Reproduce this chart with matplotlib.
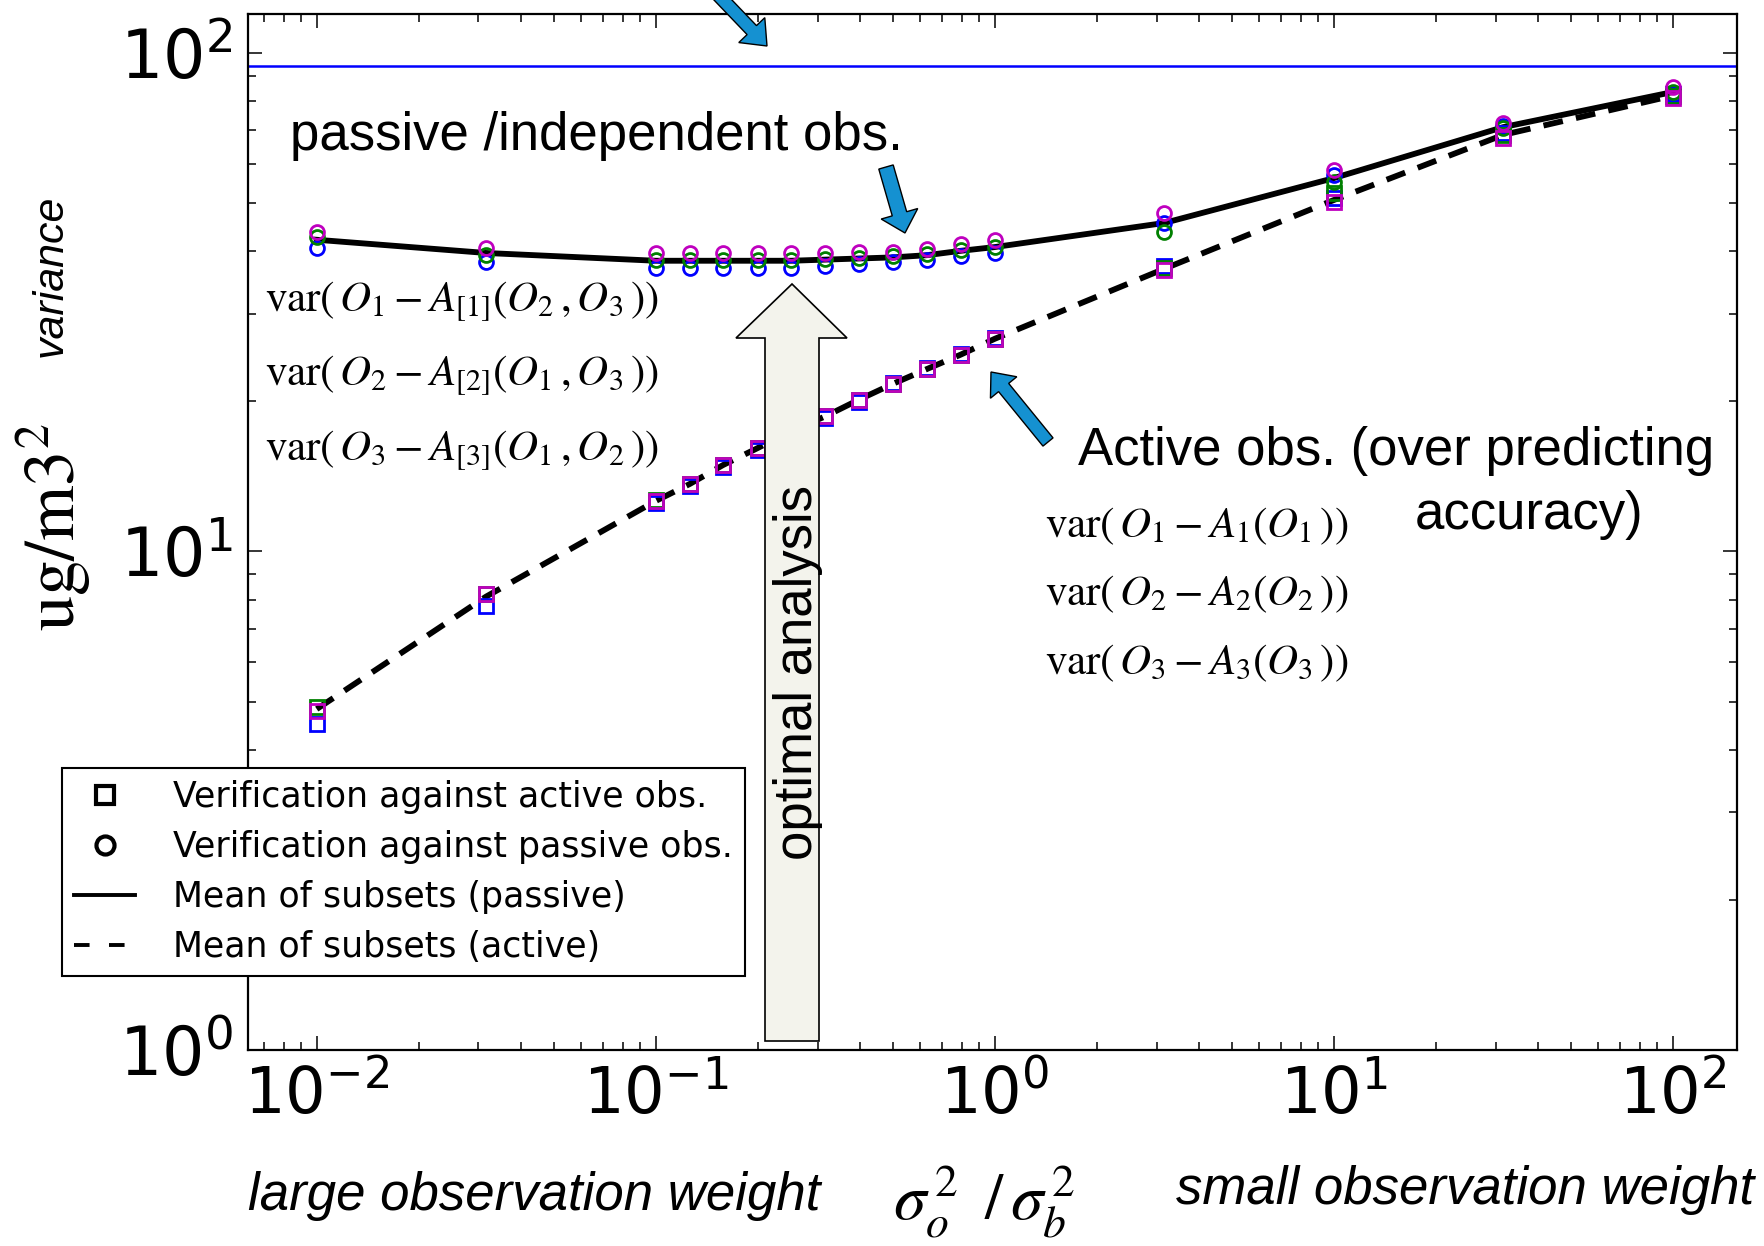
import numpy as np
import matplotlib as mpl
mpl.use('Agg')
import matplotlib.pyplot as plt
from matplotlib.patches import FancyArrow, Polygon
from matplotlib.lines import Line2D

plt.rcParams['axes.unicode_minus'] = False

W, H = 1765, 1246

# sigma_o^2 / sigma_b^2
ratio = [0.01, 0.0316, 0.1, 0.126, 0.158, 0.2, 0.251, 0.316, 0.398, 0.501,
         0.631, 0.794, 1.0, 3.16, 10.0, 31.6, 100.0]

# verification against passive obs. (circles), one list per subset
passive_blue = [40.6, 38.1, 37.0, 37.0, 37.0, 37.0, 37.0, 37.4, 37.7, 38.1,
                38.4, 39.2, 39.7, 45.6, 56.9, 71.4, 82.4]
passive_green = [42.7, 39.3, 38.4, 38.4, 38.4, 38.4, 38.4, 38.6, 38.8, 39.2,
                 39.5, 40.3, 40.8, 43.7, 55.1, 70.7, 83.5]
passive_magenta = [43.7, 40.6, 39.7, 39.7, 39.7, 39.7, 39.7, 39.7, 39.9, 39.9,
                   40.4, 41.4, 42.2, 47.8, 58.3, 72.4, 85.5]
passive_mean = [42.2, 39.7, 38.3, 38.3, 38.3, 38.3, 38.3, 38.5, 38.7, 38.9,
                39.3, 40.1, 40.8, 45.6, 56.1, 71.0, 83.5]

# verification against active obs. (squares)
active_blue = [4.51, 7.78, 12.51, 13.53, 14.77, 15.98, 17.29, 18.53, 19.95, 21.78,
               23.34, 24.90, 26.81, 37.4, 51.2, 69.1, 82.8]
active_green = [4.88, 8.22, 12.69, 13.66, 14.91, 16.13, 17.45, 18.70, 20.14, 21.68,
                23.23, 24.79, 26.69, 37.0, 52.4, 68.5, 82.0]
active_magenta = [4.79, 8.22, 12.63, 13.66, 14.91, 16.13, 17.45, 18.70, 20.14, 21.68,
                  23.23, 24.79, 26.69, 36.7, 50.2, 67.5, 81.2]
active_mean = [4.83, 8.12, 12.63, 13.66, 14.91, 16.13, 17.45, 18.66, 20.17, 21.70,
               23.23, 24.83, 26.71, 36.9, 50.7, 68.5, 82.1]

background_var = 94.0

sans = ['Liberation Sans', 'DejaVu Sans']

fig = plt.figure(figsize=(W / 100.0, H / 100.0), dpi=100)
ax = fig.add_axes([248.0 / W, 1 - 1050.0 / H, (1737.0 - 248.0) / W, (1050.0 - 13.5) / H])

ax.set_xscale('log')
ax.set_yscale('log')

ax.axhline(background_var, color='#0000ff', lw=1.8, zorder=2)
ax.plot(ratio, passive_mean, '-', color='black', lw=4.2, zorder=3)
ax.plot(ratio, active_mean, color='black', lw=4.2, ls=(0, (3.4, 2.3)), zorder=3)

subsets = [(active_blue, passive_blue, 'b'),
           (active_green, passive_green, 'g'),
           (active_magenta, passive_magenta, 'm')]
for act, pas, c in subsets:
    ax.plot(ratio, act, 's', mfc='none', mec=c, ms=9.5, mew=2.0, zorder=4)
    ax.plot(ratio, pas, 'o', mfc='none', mec=c, ms=10, mew=2.0, zorder=4)

ax.set_xlim(0.00627, 154.6)
ax.set_ylim(1, 120)

for s in ax.spines.values():
    s.set_linewidth(1.6)
ax.tick_params(which='both', direction='in', top=True, right=True, width=1.1)
ax.tick_params(which='major', length=10)
ax.tick_params(which='minor', length=6)
ax.tick_params(axis='y', labelsize=48, pad=11)
ax.tick_params(axis='x', labelsize=46, pad=10)

handles = [Line2D([], [], ls='none', marker='s', mfc='none', mec='black', ms=13, mew=3),
           Line2D([], [], ls='none', marker='o', mfc='none', mec='black', ms=13, mew=3),
           Line2D([], [], color='black', lw=2.8),
           Line2D([], [], color='black', lw=2.8, ls=(0, (4, 5)))]
labels = ['Verification against active obs.', 'Verification against passive obs.',
          'Mean of subsets (passive)', 'Mean of subsets (active)']
leg = ax.legend(handles, labels, loc='upper left',
                bbox_to_anchor=(62.0 / W, 1 - 768.0 / H), bbox_transform=fig.transFigure,
                borderaxespad=0, fancybox=False, framealpha=1, edgecolor='black',
                prop={'family': 'DejaVu Sans', 'size': 25},
                handlelength=1.75, handletextpad=1.1, labelspacing=0.46,
                borderpad=0.35)
leg.get_frame().set_linewidth(1.5)
leg.set_zorder(10)

# overlay in pixel coordinates for the slide annotations
ov = fig.add_axes([0, 0, 1, 1])
ov.set_xlim(0, W)
ov.set_ylim(H, 0)
ov.axis('off')
ov.patch.set_visible(False)

big = Polygon([(765, 1041), (819, 1041), (819, 338), (847, 338), (792, 284),
               (736, 338), (765, 338)], closed=True, fc='#f3f3ec', ec='black', lw=1.2)
ov.add_patch(big)
ov.text(798, 672, 'optimal analysis', rotation=90, ha='center', va='center',
        fontsize=38, family=sans)

blue = '#1591d1'
for x0, y0, x1, y1, w, hw, hl in [(700, -24, 767, 46, 13, 36, 22),
                                  (886, 167, 905, 233, 15, 38, 20),
                                  (1048, 442, 991, 372, 13, 34, 20)]:
    ov.add_patch(FancyArrow(x0, y0, x1 - x0, y1 - y0, width=w, head_width=hw,
                            head_length=hl, length_includes_head=True,
                            fc=blue, ec='black', lw=1.0, clip_on=False))

ov.text(290, 150, 'passive /independent obs.', fontsize=38, family=sans, va='baseline')
ov.text(1078, 465, 'Active obs. (over predicting', fontsize=38, family=sans, va='baseline')
ov.text(1415, 529, 'accuracy)', fontsize=38, family=sans, va='baseline')

left_expr = [r'$\mathrm{var}(\,O_1 - A_{[1]}(O_2\,,O_3\,))$',
             r'$\mathrm{var}(\,O_2 - A_{[2]}(O_1\,,O_3\,))$',
             r'$\mathrm{var}(\,O_3 - A_{[3]}(O_1\,,O_2\,))$']
right_expr = [r'$\mathrm{var}(\,O_1 - A_1(O_1\,))$',
              r'$\mathrm{var}(\,O_2 - A_2(O_2\,))$',
              r'$\mathrm{var}(\,O_3 - A_3(O_3\,))$']
for txt, yb in zip(left_expr, [310, 384, 459]):
    ov.text(265, yb, txt, fontsize=31, math_fontfamily='stix', va='baseline')
for txt, yb in zip(right_expr, [537, 605, 674]):
    ov.text(1045, yb, txt, fontsize=31, math_fontfamily='stix', va='baseline')

ov.text(54, 527, r'$\mathrm{ug/m3}^{2}$', rotation=90, ha='center', va='center',
        fontsize=51, math_fontfamily='stix')
ov.text(51, 276, 'variance', rotation=90, ha='center', va='center',
        fontsize=31, style='italic', family=sans)

ov.text(248, 1210, 'large observation weight', fontsize=38, style='italic',
        family=sans, va='baseline')
ov.text(1176, 1204, 'small observation weight', fontsize=38, style='italic',
        family=sans, va='baseline')
ov.text(893, 1220, r'$\sigma_o^{\,2}\ \,/\,\sigma_b^{\,2}$', fontsize=47,
        math_fontfamily='stix', va='baseline')

plt.savefig('out.png', dpi=100)
plt.close('all')
